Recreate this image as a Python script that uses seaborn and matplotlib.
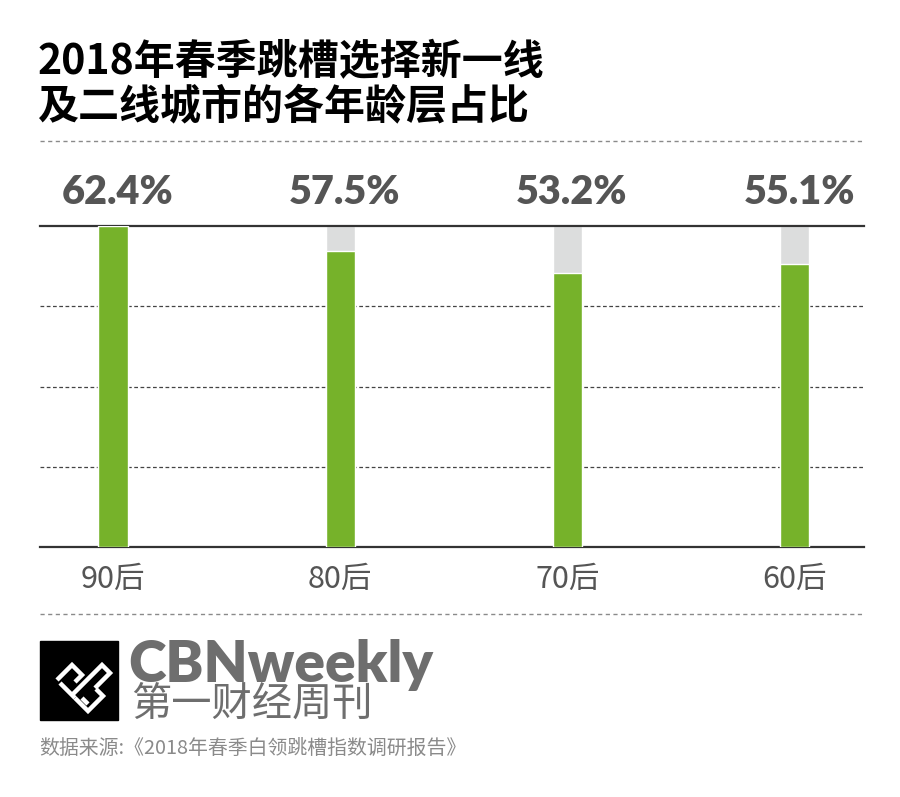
"""
2018年春季跳槽选择新一线及二线城市的各年龄层占比
"""
import matplotlib
matplotlib.use("Agg")
import matplotlib.pyplot as plt
import matplotlib.patches as mpatches
import seaborn as sns
import pandas as pd

# データ
categories = ["90后", "80后", "70后", "60后"]
shares = [62.4, 57.5, 53.2, 55.1]
value_labels = ["62.4%", "57.5%", "53.2%", "55.1%"]

GREEN = "#76b22a"
GRAY_BG = "#dcdddd"
TEXT_GRAY = "#555555"
CJK = ["Noto Sans CJK SC", "DejaVu Sans"]

sns.set_theme(style="white")
plt.rcParams["font.family"] = CJK

df = pd.DataFrame({"cat": categories, "share": shares})
top = max(shares)
df["full"] = top

W, H = 900, 797
fig = plt.figure(figsize=(W / 100, H / 100), dpi=100)
fig.patch.set_facecolor("white")

def fx(px):
    return px / W

def fy(py):
    return 1 - py / H

# 棒グラフの軸
ax = fig.add_axes([fx(40), fy(547), fx(864) - fx(40), fy(226) - fy(547)])
sns.barplot(data=df, x="cat", y="full", color=GRAY_BG, width=0.128,
            saturation=1, ax=ax, zorder=2)
sns.barplot(data=df, x="cat", y="share", color=GREEN, width=0.128,
            saturation=1, ax=ax, zorder=3)
ax.set_xlim(-0.321, 3.304)
ax.set_ylim(0, top)
ax.set_xlabel("")
ax.set_ylabel("")
ax.set_yticks([])
ax.set_xticks(range(len(categories)))
ax.set_xticklabels(categories, fontsize=22, color=TEXT_GRAY,
                   fontweight="light", family=["Noto Sans CJK SC", "DejaVu Sans"])
ax.tick_params(axis="x", length=0, pad=12)
for s in ["left", "right"]:
    ax.spines[s].set_visible(False)
for s in ["top", "bottom"]:
    ax.spines[s].set_color("#333333")
    ax.spines[s].set_linewidth(1.6)
for frac in [0.25, 0.5, 0.75]:
    ax.axhline(top * frac, color="#444444", lw=0.9, ls=(0, (3, 2)), zorder=1)

# 数値ラベル
for i, lab in enumerate(value_labels):
    ax.annotate(lab, xy=(i, top), xytext=(3, 24), textcoords="offset points",
                ha="center", va="center", fontsize=28.5, fontweight="heavy",
                color=TEXT_GRAY, family=["Lato", "DejaVu Sans"])

# タイトル
fig.text(fx(38), fy(62), "2018年春季跳槽选择新一线", fontsize=29.5,
         fontweight="bold", color="black", va="center", ha="left")
fig.text(fx(38), fy(107), "及二线城市的各年龄层占比", fontsize=29.5,
         fontweight="bold", color="black", va="center", ha="left")

# 区切り線
for yy in [141, 614]:
    fig.add_artist(plt.Line2D([fx(40), fx(864)], [fy(yy), fy(yy)],
                              color="#8a8a8a", lw=1.0, ls=(0, (3, 2.5))))

# ロゴ
fig.add_artist(mpatches.Rectangle((fx(40), fy(720)), fx(118) - fx(40),
                                  fy(641) - fy(720), color="black"))
logo_lines = [
    [(57, 680), (72, 665), (82, 675), (75, 682)],
    [(72, 695), (87, 680), (102, 665), (110, 673), (95, 688)],
    [(75, 698), (88, 711), (103, 696), (96, 689)],
    [(82, 698), (88, 704)],
    [(60, 683), (75, 698)],
]
for pts in logo_lines:
    xs = [fx(p[0]) for p in pts]
    ys = [fy(p[1]) for p in pts]
    fig.add_artist(plt.Line2D(xs, ys, color="white", lw=3.2,
                              solid_joinstyle="miter", solid_capstyle="butt"))

fig.text(fx(128), fy(682), "CBNweekly", fontsize=41, fontweight="heavy",
         color="#6e6e6e", va="baseline", ha="left", family=["Lato", "DejaVu Sans"])
fig.text(fx(131), fy(704), "第一财经周刊", fontsize=29, color="#6e6e6e",
         va="center", ha="left")
fig.text(fx(39), fy(748), "数据来源:《2018年春季白领跳槽指数调研报告》",
         fontsize=14.3, color="#8a8a8a", va="center", ha="left",
         fontweight="light")

fig.savefig("out.png", dpi=100, facecolor="white")
